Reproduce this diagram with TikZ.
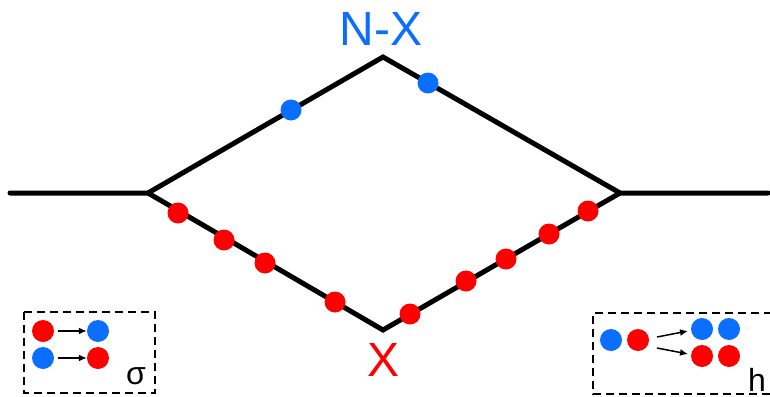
\documentclass[tikz,border=0pt]{standalone}
\usepackage{fontspec}
\setmainfont{Liberation Sans}
\usetikzlibrary{arrows.meta}
\definecolor{dotblue}{RGB}{10,110,255}
\definecolor{dotred}{RGB}{255,0,0}
\tikzset{
  path/.style={line width=5pt, line join=miter, line cap=round},
  bdot/.style={circle, fill=dotblue, inner sep=0pt, minimum size=21pt},
  rdot/.style={circle, fill=dotred, inner sep=0pt, minimum size=21pt},
  sdot/.style={circle, inner sep=0pt, minimum size=22pt},
  legend/.style={draw, dashed, dash pattern=on 8pt off 5pt, line width=1.8pt},
  arr/.style={-{Latex[length=8pt,width=7pt]}, line width=1.5pt},
  big/.style={font=\fontsize{48}{48}\selectfont, inner sep=0pt},
  small/.style={font=\fontsize{32}{32}\selectfont, inner sep=0pt},
}
\begin{document}
\begin{tikzpicture}[x=1pt,y=-1pt]
\useasboundingbox (0,0) rectangle (770,396);
% main paths
\coordinate (L) at (10,193);
\coordinate (A) at (148,193);
\coordinate (T) at (383,57);
\coordinate (B) at (383,330);
\coordinate (C) at (620,193);
\coordinate (R) at (768,193);
\draw[path] (L) -- (A) -- (T) -- (C) -- (R);
\draw[path] (A) -- (B) -- (C);
% dots on paths
\node[bdot] (u1) at (291,110) {};
\node[bdot] (u2) at (428,83) {};
\node[rdot] (d1) at (178,213) {};
\node[rdot] (d2) at (224,240) {};
\node[rdot] (d3) at (265,263) {};
\node[rdot] (d4) at (335,302) {};
\node[rdot] (d5) at (410,314) {};
\node[rdot] (d6) at (466,281) {};
\node[rdot] (d7) at (506,259) {};
\node[rdot] (d8) at (549,234) {};
\node[rdot] (d9) at (588,211) {};
% labels
\node[big, text=dotblue] (nx) at (381,29) {N-X};
\node[big, text=dotred] (x) at (384,360) {X};
% left legend
\draw[legend] (24,312) rectangle (155,393);
\node[sdot, fill=dotred] (s1) at (43,331) {};
\node[sdot, fill=dotblue] (s2) at (98,331) {};
\node[sdot, fill=dotblue] (s3) at (43,358) {};
\node[sdot, fill=dotred] (s4) at (98,358) {};
\draw[arr, shorten <=4pt] (s1) -- (s2);
\draw[arr, shorten <=4pt] (s3) -- (s4);
\node[small] (sig) at (136,376) {σ};
% right legend
\draw[legend] (772,313) -- (593,313) -- (593,394) -- (772,394);
\node[sdot, fill=dotblue] (h1) at (611,340) {};
\node[sdot, fill=dotred] (h2) at (638,340) {};
\node[sdot, fill=dotblue] (h3) at (702,329) {};
\node[sdot, fill=dotblue] (h4) at (729,329) {};
\node[sdot, fill=dotred] (h5) at (702,356) {};
\node[sdot, fill=dotred] (h6) at (729,356) {};
\coordinate (a1s) at (657,337);
\coordinate (a1e) at (688,331);
\coordinate (a2s) at (657,348);
\coordinate (a2e) at (688,354);
\draw[arr] (a1s) -- (a1e);
\draw[arr] (a2s) -- (a2e);
\node[small] (hl) at (757,380) {h};
\end{tikzpicture}
\end{document}
